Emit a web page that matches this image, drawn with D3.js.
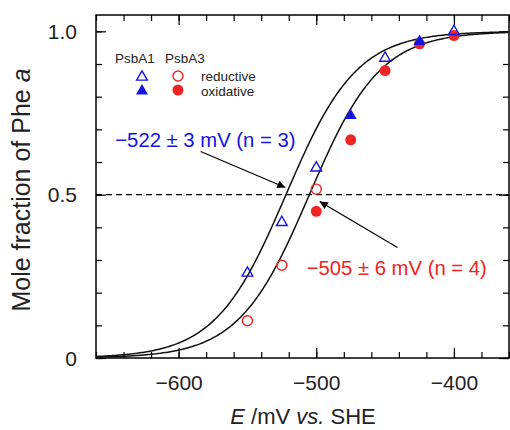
<!DOCTYPE html>
<html>
<head>
<meta charset="utf-8">
<script src="https://cdn.jsdelivr.net/npm/d3@7"></script>
<style>
  html, body { margin: 0; padding: 0; background: #fff; }
  svg { display: block; font-family: "Liberation Sans", Arial, Helvetica, sans-serif; }
</style>
</head>
<body>
<svg id="chart" width="510" height="430"></svg>
<script>
// ---------------- data ----------------
const xMajorTicks = [-600, -500, -400];
const yMajorTicks = [0, 0.5, 1.0];
const yTickLabels = ["0", "0.5", "1.0"];

// PsbA1 (blue triangles)
const psbA1RedE = [-550, -525, -500, -450, -400];
const psbA1RedF = [0.26, 0.415, 0.582, 0.918, 1.0];
const psbA1OxE  = [-475, -425];
const psbA1OxF  = [0.742, 0.969];

// PsbA3 (red circles)
const psbA3RedE = [-550, -525, -500];
const psbA3RedF = [0.114, 0.284, 0.517];
const psbA3OxE  = [-500, -475, -450, -425, -400];
const psbA3OxF  = [0.449, 0.668, 0.88, 0.962, 0.987];

// Nernst fits (n = 1)
const fitEm = [-522, -505];
const fitN = [1, 1];

const annText = ["\u2212522 \u00b1 3 mV (n = 3)", "\u2212505 \u00b1 6 mV (n = 4)"];

// ---------------- layout ----------------
const BLUE = "#1515e0", RED = "#ef2424";
const svg = d3.select("#chart");
const x = d3.scaleLinear().domain([-660, -360]).range([96, 509]);
const y = d3.scaleLinear().domain([0, 1.05]).range([358, 15]);
const X0 = x.range()[0], X1 = x.range()[1], Y0 = y.range()[0], Y1 = y.range()[1];

// defs arrow
svg.append("defs").append("marker")
  .attr("id", "arr").attr("viewBox", "0 0 10 10").attr("refX", 10).attr("refY", 5)
  .attr("markerWidth", 11).attr("markerHeight", 8).attr("markerUnits", "userSpaceOnUse")
  .attr("orient", "auto")
  .append("path").attr("d", "M0,0 L10,5 L0,10 Z").attr("fill", "#000");

// dashed 0.5 line
svg.append("line").attr("x1", X0).attr("x2", X1).attr("y1", y(0.5)).attr("y2", y(0.5))
  .attr("stroke", "#000").attr("stroke-width", 1.2).attr("stroke-dasharray", "6,4");

// axes with inward ticks
const minorX = d3.range(-660, -359, 20);
const minorY = d3.range(0, 1.001, 0.1);
function axisGroup(gen, tx, ty) {
  return svg.append("g").attr("transform", `translate(${tx},${ty})`).call(gen);
}
const fmtY = d => yTickLabels[yMajorTicks.indexOf(d)];
const fmtX = d => d3.format("")(d).replace("-", "\u2212");

// minor ticks
axisGroup(d3.axisBottom(x).tickValues(minorX).tickSize(-6).tickFormat(""), 0, Y0);
axisGroup(d3.axisTop(x).tickValues(minorX).tickSize(-6).tickFormat(""), 0, Y1);
axisGroup(d3.axisLeft(y).tickValues(minorY).tickSize(-6).tickFormat(""), X0, 0);
axisGroup(d3.axisRight(y).tickValues(minorY).tickSize(-6).tickFormat(""), X1, 0);
// major ticks
const bx = axisGroup(d3.axisBottom(x).tickValues(xMajorTicks).tickSize(-10).tickPadding(17).tickFormat(fmtX), 0, Y0);
axisGroup(d3.axisTop(x).tickValues(xMajorTicks).tickSize(-10).tickFormat(""), 0, Y1);
const ly = axisGroup(d3.axisLeft(y).tickValues(yMajorTicks).tickSize(-10).tickPadding(19).tickFormat(fmtY), X0, 0);
axisGroup(d3.axisRight(y).tickValues(yMajorTicks).tickSize(-10).tickFormat(""), X1, 0);

svg.selectAll(".domain").remove();
svg.selectAll(".tick line").attr("stroke", "#000").attr("stroke-width", 1.2);
svg.selectAll(".tick text").attr("fill", "#222").attr("font-family", "Liberation Sans, Arial, sans-serif");
bx.selectAll("text").attr("font-size", 21);
ly.selectAll("text").attr("font-size", 21).attr("dy", "0.34em");

// frame
svg.append("rect").attr("x", X0).attr("y", Y1).attr("width", X1 - X0).attr("height", Y0 - Y1)
  .attr("fill", "none").attr("stroke", "#000").attr("stroke-width", 1.5);

// clip for curves
svg.append("clipPath").attr("id", "clip").append("rect")
  .attr("x", X0).attr("y", Y1).attr("width", X1 - X0).attr("height", Y0 - Y1);

// fitted curves
const RTF = 25.69;
const Egrid = d3.range(-660, -359.9, 1);
const line = d3.line().x(d => x(d[0])).y(d => y(d[1])).curve(d3.curveLinear);
fitEm.forEach((em, i) => {
  const pts = Egrid.map(E => [E, 1 / (1 + Math.exp(-fitN[i] * (E - em) / RTF))]);
  svg.append("path").attr("d", line(pts)).attr("fill", "none")
    .attr("stroke", "#111").attr("stroke-width", 1.5).attr("clip-path", "url(#clip)");
});

// markers
const tri = d3.symbol().type(d3.symbolTriangle).size(50);
const triS = d3.symbol().type(d3.symbolTriangle).size(62);
function circles(Es, Fs, filled) {
  svg.append("g").selectAll("circle").data(Es.map((e, i) => [e, Fs[i]])).join("circle")
    .attr("cx", d => x(d[0])).attr("cy", d => y(d[1])).attr("r", filled ? 5.5 : 5)
    .attr("fill", filled ? RED : "#fff").attr("fill-opacity", filled ? 1 : 0)
    .attr("stroke", RED).attr("stroke-width", filled ? 0 : 1.4);
}
function triangles(Es, Fs, filled) {
  svg.append("g").selectAll("path").data(Es.map((e, i) => [e, Fs[i]])).join("path")
    .attr("d", filled ? triS() : tri())
    .attr("transform", d => `translate(${x(d[0])},${y(d[1])})`)
    .attr("fill", filled ? BLUE : "none")
    .attr("stroke", BLUE).attr("stroke-width", filled ? 0 : 1.4);
}
circles(psbA3OxE, psbA3OxF, true);
circles(psbA3RedE, psbA3RedF, false);
triangles(psbA1RedE, psbA1RedF, false);
triangles(psbA1OxE, psbA1OxF, true);

// annotations
const ann = [
  { text: annText[0], color: BLUE, tx: -646, ty: 0.647, from: [-584, 0.632], to: [-522.5, 0.522] },
  { text: annText[1], color: RED,  tx: -507, ty: 0.255, from: [-441, 0.338], to: [-497.5, 0.479] }
];
ann.forEach(a => {
  svg.append("text").attr("x", x(a.tx)).attr("y", y(a.ty)).attr("fill", a.color)
    .attr("font-size", 20.3).text(a.text);
  svg.append("line").attr("x1", x(a.from[0])).attr("y1", y(a.from[1]))
    .attr("x2", x(a.to[0])).attr("y2", y(a.to[1]))
    .attr("stroke", "#000").attr("stroke-width", 1.2).attr("marker-end", "url(#arr)");
});

// legend
const lg = svg.append("g").attr("font-size", 13.5).attr("fill", "#222");
lg.append("text").attr("x", 115).attr("y", 63).text("PsbA1");
lg.append("text").attr("x", 165).attr("y", 63).text("PsbA3");
lg.append("text").attr("x", 201).attr("y", 80.5).text("reductive");
lg.append("text").attr("x", 201).attr("y", 95.5).text("oxidative");
lg.append("path").attr("d", tri()).attr("transform", "translate(142,77)")
  .attr("fill", "none").attr("stroke", BLUE).attr("stroke-width", 1.4);
lg.append("path").attr("d", triS()).attr("transform", "translate(142,91)").attr("fill", BLUE);
lg.append("circle").attr("cx", 178).attr("cy", 76).attr("r", 5).attr("fill", "none")
  .attr("stroke", RED).attr("stroke-width", 1.4);
lg.append("circle").attr("cx", 178).attr("cy", 90).attr("r", 5.5).attr("fill", RED);

// axis titles
const xt = svg.append("text").attr("x", (223 + 383) / 2).attr("y", 424).attr("text-anchor", "middle")
  .attr("font-size", 22).attr("fill", "#222");
xt.append("tspan").attr("font-style", "italic").text("E");
xt.append("tspan").text(" /mV ");
xt.append("tspan").attr("font-style", "italic").text("vs.");
xt.append("tspan").text(" SHE");

const yt = svg.append("text").attr("transform", "translate(30,190) rotate(-90)")
  .attr("text-anchor", "middle").attr("font-size", 25).attr("fill", "#222");
yt.append("tspan").text("Mole fraction of Phe ");
yt.append("tspan").attr("font-style", "italic").text("a");
</script>
</body>
</html>
